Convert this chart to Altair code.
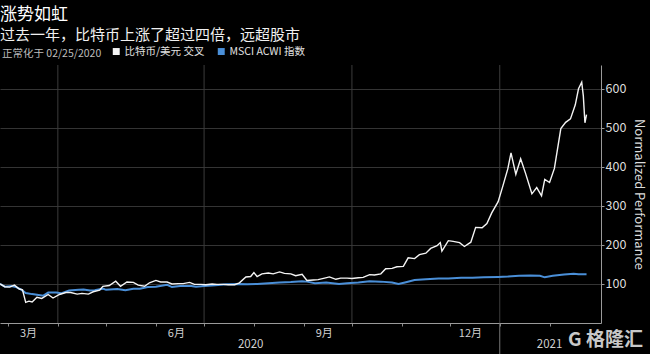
import altair as alt
import pandas as pd

# ---------------- data ----------------
series_names = ["比特币/美元 交叉", "MSCI ACWI 指数"]
series_colors = ["#f4f4f4", "#4a8fd8"]

btc_dates = [
    "2020-02-25", "2020-02-28", "2020-03-02", "2020-03-05", "2020-03-08", "2020-03-10",
    "2020-03-12", "2020-03-14", "2020-03-16", "2020-03-19", "2020-03-22", "2020-03-26",
    "2020-03-29", "2020-04-02", "2020-04-06", "2020-04-09", "2020-04-13", "2020-04-16",
    "2020-04-20", "2020-04-23", "2020-04-27", "2020-04-29", "2020-05-03", "2020-05-07",
    "2020-05-10", "2020-05-14", "2020-05-18", "2020-05-21", "2020-05-25", "2020-05-28",
    "2020-06-01", "2020-06-04", "2020-06-08", "2020-06-11", "2020-06-15", "2020-06-18",
    "2020-06-22", "2020-06-25", "2020-06-29", "2020-07-02", "2020-07-06", "2020-07-09",
    "2020-07-13", "2020-07-16", "2020-07-20", "2020-07-23", "2020-07-27", "2020-07-30",
    "2020-08-01", "2020-08-03", "2020-08-06", "2020-08-10", "2020-08-13", "2020-08-17",
    "2020-08-20", "2020-08-24", "2020-08-27", "2020-08-31", "2020-09-03", "2020-09-07",
    "2020-09-10", "2020-09-14", "2020-09-17", "2020-09-21", "2020-09-24", "2020-09-28",
    "2020-10-01", "2020-10-05", "2020-10-08", "2020-10-12", "2020-10-15", "2020-10-19",
    "2020-10-22", "2020-10-26", "2020-10-29", "2020-11-02", "2020-11-05", "2020-11-09",
    "2020-11-12", "2020-11-16", "2020-11-19", "2020-11-23", "2020-11-25", "2020-11-26",
    "2020-11-30", "2020-12-03", "2020-12-07", "2020-12-10", "2020-12-14", "2020-12-17",
    "2020-12-21", "2020-12-24", "2020-12-27", "2020-12-31", "2021-01-03", "2021-01-06",
    "2021-01-08", "2021-01-11", "2021-01-14", "2021-01-17", "2021-01-21", "2021-01-24",
    "2021-01-27", "2021-01-29", "2021-02-01", "2021-02-04", "2021-02-08", "2021-02-11",
    "2021-02-14", "2021-02-17", "2021-02-19", "2021-02-21", "2021-02-22", "2021-02-23",
    "2021-02-24",
]
btc_values = [
    100, 93, 92, 97, 87, 85,
    53, 56, 54, 66, 63, 73,
    64, 73, 78, 78, 74, 76,
    74, 80, 84, 94, 96, 107,
    94, 105, 104, 97, 94, 103,
    109, 105, 105, 100, 101, 101,
    104, 99, 99, 98, 100, 99,
    99, 98, 98, 103, 118, 119,
    129, 119, 126, 128, 126, 131,
    127, 126, 121, 125, 109, 110,
    111, 115, 118, 112, 115, 115,
    114, 116, 117, 124, 123, 126,
    139, 140, 144, 145, 167, 165,
    175, 179, 191, 198, 206, 184,
    211, 209, 206, 196, 207, 245,
    244, 255, 282, 311, 352, 395,
    436, 381, 421, 384, 331, 347,
    326, 368, 360, 396, 498, 514,
    523, 559, 600, 617, 582, 513,
    534,
]

msci_dates = [
    "2020-02-25", "2020-02-28", "2020-03-03", "2020-03-06", "2020-03-09", "2020-03-12",
    "2020-03-16", "2020-03-18", "2020-03-20", "2020-03-23", "2020-03-26", "2020-03-31",
    "2020-04-03", "2020-04-08", "2020-04-14", "2020-04-17", "2020-04-21", "2020-04-24",
    "2020-04-29", "2020-05-01", "2020-05-08", "2020-05-13", "2020-05-18", "2020-05-22",
    "2020-05-27", "2020-06-01", "2020-06-08", "2020-06-11", "2020-06-16", "2020-06-23",
    "2020-06-26", "2020-07-01", "2020-07-08", "2020-07-15", "2020-07-22", "2020-07-28",
    "2020-08-03", "2020-08-10", "2020-08-17", "2020-08-24", "2020-08-31", "2020-09-03",
    "2020-09-08", "2020-09-15", "2020-09-23", "2020-09-28", "2020-10-05", "2020-10-12",
    "2020-10-19", "2020-10-26", "2020-10-30", "2020-11-03", "2020-11-09", "2020-11-16",
    "2020-11-24", "2020-11-30", "2020-12-08", "2020-12-15", "2020-12-22", "2020-12-31",
    "2021-01-06", "2021-01-13", "2021-01-20", "2021-01-26", "2021-01-29", "2021-02-03",
    "2021-02-10", "2021-02-16", "2021-02-19", "2021-02-24",
]
msci_values = [
    100, 93, 95, 92, 86, 77,
    74, 73, 72, 70, 78, 78,
    76, 83, 85, 86, 83, 84,
    88, 85, 87, 84, 88, 88,
    92, 93, 98, 92, 95, 95,
    93, 95, 97, 99, 100, 99,
    100, 102, 104, 105, 107, 106,
    102, 104, 100, 102, 104, 107,
    106, 104, 100, 104, 110, 112,
    114, 114, 116, 116, 117, 118,
    119, 121, 122, 121, 117, 121,
    124, 126, 125, 125,
]

y_ticks = [100, 200, 300, 400, 500, 600]
month_ticks = [(2020, m) for m in range(3, 13)] + [(2021, 1), (2021, 2)]
quarter_grid_dates = ["2020-04-01", "2020-07-01", "2020-10-01", "2021-01-01"]
year_labels = ["2020", "2021"]
year_label_dates = ["2020-07-30", "2021-02-01"]
year_break_dates = ["2021-01-01"]

# ---------------- frames ----------------
def local(d):
    return d + "T00:00:00"

df_btc = pd.DataFrame({"date": [local(d) for d in btc_dates], "value": btc_values,
                       "series": series_names[0]})
df_msci = pd.DataFrame({"date": [local(d) for d in msci_dates], "value": msci_values,
                        "series": series_names[1]})
df_grid = pd.DataFrame({"date": [local(d) for d in quarter_grid_dates]})
df_years = pd.DataFrame({"date": [local(d) for d in year_label_dates], "label": year_labels})
df_break = pd.DataFrame({"date": [local(d) for d in year_break_dates]})

FONT = "Noto Sans CJK SC"
W, H = 601, 258

x_scale = alt.Scale(domain=[alt.DateTime(year=2020, month=2, date=25),
                            alt.DateTime(year=2021, month=3, date=5)])
y_scale = alt.Scale(domain=[0, 661], nice=False, zero=True)
color_scale = alt.Scale(domain=series_names, range=series_colors)

x_axis = alt.Axis(
    values=[alt.DateTime(year=y, month=m, date=1) for y, m in month_ticks],
    grid=False, title=None,
    tickSize=3, tickColor="#8a8a8a", domainColor="#9a9a9a", domainWidth=1,
    labelExpr="indexof([2,5,8,11], month(datum.value)) >= 0 ? (month(datum.value)+1) + '月' : ''",
    labelOffset=20, labelPadding=1, labelColor="#d0d0d0", labelFontSize=11,
    labelFont=FONT, labelFlush=False, labelAlign="center", labelOverlap=False,
)
y_axis = alt.Axis(
    orient="right", values=y_ticks, grid=True, gridColor="#343434", gridWidth=1,
    tickSize=3, tickColor="#9a9a9a", domainColor="#9a9a9a",
    labelColor="#dcdcdc", labelFontSize=12.5, labelFont=FONT, labelPadding=1,
    title="Normalized Performance", titleColor="#dcdcdc", titleFontSize=13,
    titleFont=FONT, titleFontWeight="normal", titleAngle=90, titlePadding=6,
)

legend = alt.Legend(
    orient="none", legendX=2, legendY=-19, direction="horizontal",
    title="正常化于 02/25/2020", titleOrient="left", titleColor="#bdbdbd",
    titleFontSize=10.5, titleFontWeight="normal", titleFont=FONT, titlePadding=9,
    labelColor="#e0e0e0", labelFontSize=10.5, labelFont=FONT, labelOffset=3,
    symbolType="square", symbolSize=6, symbolStrokeWidth=4.5, columnPadding=6,
)

grid = alt.Chart(df_grid).mark_rule(color="#3c3c3c", strokeWidth=1).encode(
    x=alt.X("date:T", scale=x_scale, axis=x_axis)
)

msci_line = alt.Chart(df_msci).mark_line(strokeWidth=2, clip=True).encode(
    x=alt.X("date:T", scale=x_scale, axis=x_axis),
    y=alt.Y("value:Q", scale=y_scale, axis=y_axis),
    color=alt.Color("series:N", scale=color_scale, legend=legend),
)
btc_line = alt.Chart(df_btc).mark_line(strokeWidth=1.4, clip=True).encode(
    x=alt.X("date:T", scale=x_scale, axis=x_axis),
    y=alt.Y("value:Q", scale=y_scale, axis=y_axis),
    color=alt.Color("series:N", scale=color_scale, legend=legend),
)

year_break = alt.Chart(df_break).mark_rule(color="#777777", strokeWidth=1).encode(
    x="date:T", y=alt.value(H), y2=alt.value(H + 31)
)
year_text = alt.Chart(df_years).mark_text(
    color="#d0d0d0", fontSize=11.5, font=FONT, baseline="middle", align="center"
).encode(x="date:T", y=alt.value(H + 22), text="label:N")

watermark = alt.Chart(pd.DataFrame({"t": ["G 格隆汇"]})).mark_text(
    color="#c8c8c8", fontSize=19, font=FONT, fontWeight="bold", align="right",
    baseline="middle"
).encode(x=alt.value(W + 42), y=alt.value(H + 17), text="t:N")

chart = alt.layer(grid, msci_line, btc_line, year_break, year_text, watermark).properties(
    width=W, height=H,
    autosize="none",
    padding={"left": 0, "top": 65, "right": 49, "bottom": 31},
    title=alt.TitleParams(
        text="涨势如虹", subtitle="过去一年，比特币上涨了超过四倍，远超股市",
        anchor="start", frame="group", orient="top", offset=2,
        color="#ffffff", fontSize=17, fontWeight="normal", font=FONT,
        subtitleColor="#f0f0f0", subtitleFontSize=15, subtitleFont=FONT,
        subtitlePadding=4,
    ),
).configure(background="#000000").configure_view(stroke=None)

chart.save("out.html", embed_options={"renderer": "svg", "actions": False})
